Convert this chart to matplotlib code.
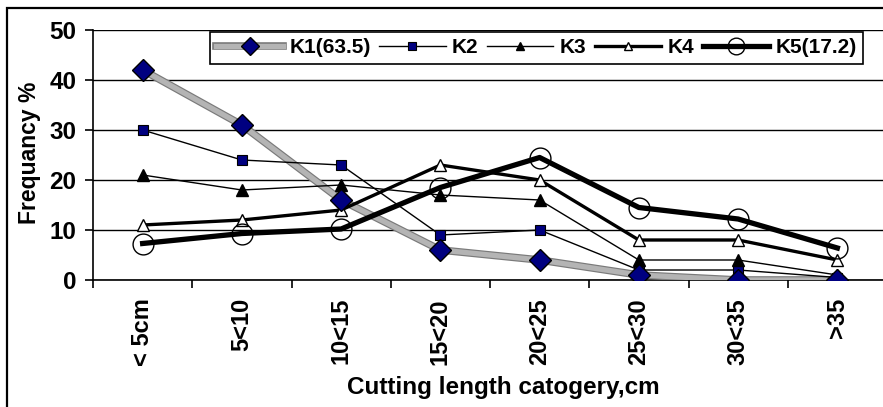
import numpy as np
import matplotlib.pyplot as plt
import matplotlib.patheffects as pe
from matplotlib.patches import Rectangle

plt.rcParams['font.family'] = ['Liberation Sans', 'DejaVu Sans']
plt.rcParams['font.weight'] = 'bold'

categories = ['< 5cm', '5<10', '10<15', '15<20', '20<25', '25<30', '30<35', '>35']
k1 = [42, 31, 16, 6, 4, 1, 0, 0]
k2 = [30, 24, 23, 9, 10, 2, 2, 0.5]
k3 = [21, 18, 19, 17, 16, 4, 4, 1]
k4 = [11, 12, 14, 23, 20, 8, 8, 4]
k5 = [7.3, 9.3, 10.2, 18.5, 24.5, 14.5, 12.2, 6.4]
labels = ['K1(63.5)', 'K2', 'K3', 'K4', 'K5(17.2)']
yticks = [0, 10, 20, 30, 40, 50]

W, H = 883, 407
fig = plt.figure(figsize=(W / 100, H / 100), dpi=100)
# plot area runs a little past the right edge, as in the cropped original
ax = fig.add_axes([93 / W, 127 / H, 794 / W, 250 / H])

# outer chart frame (cut off at right and bottom)
fig.patches.append(Rectangle((7 / W, -0.1), 1.0, 1.1 - 8 / H, transform=fig.transFigure,
                             fill=False, edgecolor='black', lw=1.6, zorder=0))

x = np.arange(len(categories))

# K1: stippled grey band, drawn as outline + fill, markers on top of everything
l1, = ax.plot(x, k1, color='#b4b4b4', lw=3.8, zorder=3)
l1.set_path_effects([pe.Stroke(linewidth=5.5, foreground='#7a7a7a'), pe.Normal()])
m1, = ax.plot(x, k1, ls='none', marker='D', ms=11, mfc='#000080', mec='black', mew=1, zorder=6)

h2, = ax.plot(x, k2, color='black', lw=1, marker='s', ms=6.5, mfc='#000080', mec='black',
              mew=0.8, zorder=4)
h3, = ax.plot(x, k3, color='black', lw=1, marker='^', ms=8, mfc='black', mec='black', zorder=4)
h4, = ax.plot(x, k4, color='black', lw=2.4, marker='^', ms=8, mfc='white', mec='black',
              mew=1, zorder=4)
h5, = ax.plot(x, k5, color='black', lw=3.8, marker='o', ms=15, mfc='none', mec='black',
              mew=1, zorder=4)

ax.set_xlim(-0.5, len(categories) - 0.5)
ax.set_ylim(0, 50)
ax.set_yticks(yticks)
ax.set_xticks(x)
ax.set_xticklabels(categories, rotation=90, fontsize=17, fontweight='bold')
ax.set_xticks(np.arange(-0.5, len(categories)), minor=True)
ax.tick_params(axis='x', which='major', length=0, pad=13)
ax.tick_params(axis='x', which='minor', length=6, width=1.2, direction='out')
ax.tick_params(axis='y', length=6, width=1.2, direction='out', pad=6, labelsize=17.5)
for t in ax.get_yticklabels():
    t.set_fontweight('bold')

ax.grid(axis='y', color='black', lw=1)
ax.set_axisbelow(True)
for s in ['top', 'right']:
    ax.spines[s].set_visible(False)
ax.spines['left'].set_linewidth(1.2)
ax.spines['bottom'].set_linewidth(1.2)

ax.set_ylabel('Frequancy %', fontsize=16.5, fontweight='bold')
ax.yaxis.set_label_coords((30 - 93) / 794, (280 - 153) / 250)
ax.yaxis.label.set_va('center')
ax.set_xlabel('Cutting length catogery,cm', fontsize=17.5, fontweight='bold')
ax.xaxis.set_label_coords((503 - 93) / 794, (280 - 376) / 250)

leg = ax.legend([(l1, m1), h2, h3, h4, h5], labels,
                loc='upper left', bbox_to_anchor=((210 - 93) / 794, (280 - 32) / 250),
                ncol=5, frameon=True, fancybox=False, edgecolor='black', framealpha=1,
                fontsize=15, handlelength=3.2, handletextpad=0.3, columnspacing=0.4,
                borderpad=0.3, borderaxespad=0, markerscale=0.8)
leg.get_frame().set_linewidth(1.2)
leg.set_zorder(10)

fig.savefig('out.png', dpi=100)
